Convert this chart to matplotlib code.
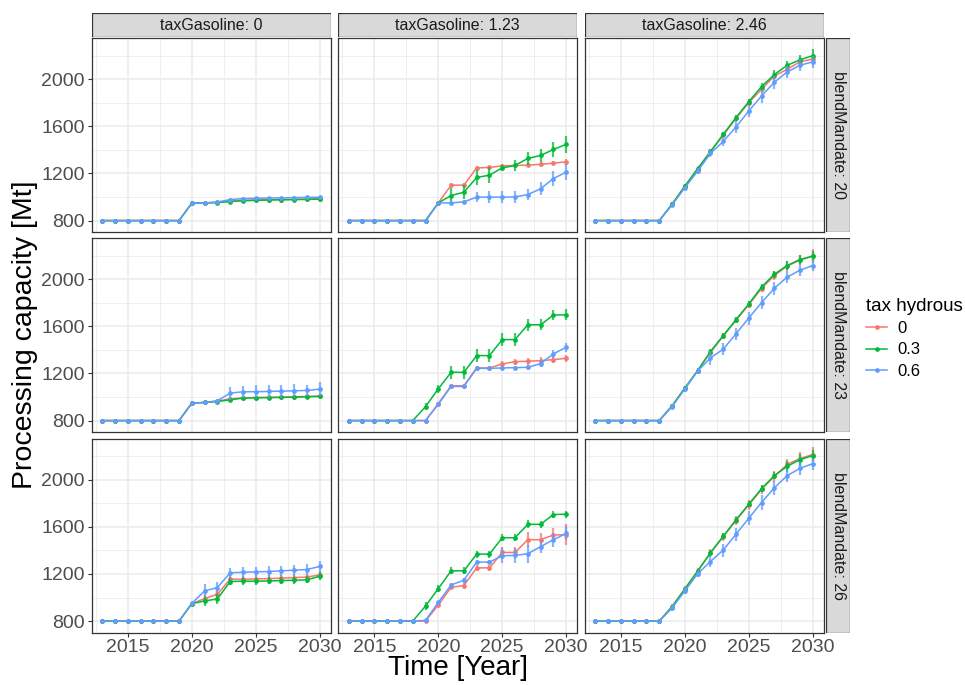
import matplotlib
matplotlib.use("Agg")
import matplotlib.pyplot as plt
from matplotlib.lines import Line2D
from matplotlib.patches import Rectangle
from matplotlib.ticker import FixedLocator

plt.rcParams['font.family'] = ['Liberation Sans', 'DejaVu Sans']

years = [2013, 2014, 2015, 2016, 2017, 2018, 2019, 2020, 2021,
         2022, 2023, 2024, 2025, 2026, 2027, 2028, 2029, 2030]

tax_gasoline = ["0", "1.23", "2.46"]
blend_mandate = ["20", "23", "26"]
tax_hydrous = ["0", "0.3", "0.6"]
series_colors = ["#F8766D", "#00BA38", "#619CFF"]

# Mean processing capacity [Mt]; each block holds tax hydrous 0, 0.3, 0.6
cap_m20_t0 = [
    [800, 800, 800, 800, 800, 800, 800, 948, 950, 955, 965, 972, 975, 977, 978, 980, 982, 985],
    [800, 800, 800, 800, 800, 800, 800, 948, 950, 953, 962, 968, 972, 975, 977, 978, 980, 983],
    [800, 800, 800, 800, 800, 800, 800, 948, 950, 958, 978, 987, 990, 992, 993, 995, 997, 998],
]
cap_m20_t1 = [
    [800, 800, 800, 800, 800, 800, 800, 950, 1101, 1101, 1248, 1251, 1265, 1268, 1271, 1277, 1288, 1299],
    [800, 800, 800, 800, 800, 800, 800, 950, 1013, 1041, 1166, 1186, 1248, 1268, 1328, 1353, 1404, 1447],
    [800, 800, 800, 800, 800, 800, 800, 950, 950, 959, 999, 999, 999, 1001, 1021, 1070, 1157, 1211],
]
cap_m20_t2 = [
    [800, 800, 800, 800, 800, 800, 939, 1092, 1240, 1387, 1523, 1668, 1801, 1915, 2028, 2085, 2148, 2173],
    [800, 800, 800, 800, 800, 800, 939, 1092, 1240, 1384, 1532, 1674, 1810, 1938, 2040, 2119, 2165, 2201],
    [800, 800, 800, 800, 800, 800, 933, 1078, 1220, 1370, 1472, 1594, 1731, 1858, 1975, 2062, 2119, 2148],
]
cap_m23_t0 = [
    [800, 800, 800, 800, 800, 800, 800, 948, 954, 965, 985, 993, 996, 997, 999, 1002, 1005, 1008],
    [800, 800, 800, 800, 800, 800, 800, 948, 954, 962, 976, 991, 994, 995, 997, 999, 1002, 1005],
    [800, 800, 800, 800, 800, 800, 800, 948, 954, 968, 1033, 1045, 1045, 1048, 1050, 1053, 1056, 1067],
]
cap_m23_t1 = [
    [800, 800, 800, 800, 800, 800, 800, 945, 1096, 1096, 1247, 1247, 1281, 1301, 1304, 1309, 1318, 1329],
    [800, 800, 800, 800, 800, 800, 919, 1070, 1210, 1210, 1352, 1352, 1488, 1488, 1614, 1614, 1696, 1699],
    [800, 800, 800, 800, 800, 800, 800, 939, 1090, 1090, 1244, 1244, 1247, 1250, 1252, 1284, 1366, 1423],
]
cap_m23_t2 = [
    [800, 800, 800, 800, 800, 800, 925, 1076, 1224, 1378, 1517, 1651, 1784, 1921, 2032, 2112, 2163, 2197],
    [800, 800, 800, 800, 800, 800, 925, 1076, 1224, 1386, 1522, 1657, 1790, 1935, 2043, 2117, 2168, 2197],
    [800, 800, 800, 800, 800, 800, 919, 1067, 1221, 1332, 1406, 1537, 1671, 1801, 1924, 2018, 2077, 2117],
]
cap_m26_t0 = [
    [800, 800, 800, 800, 800, 800, 800, 948, 991, 1028, 1156, 1156, 1158, 1161, 1164, 1170, 1173, 1193],
    [800, 800, 800, 800, 800, 800, 800, 948, 971, 988, 1136, 1139, 1139, 1141, 1144, 1147, 1150, 1181],
    [800, 800, 800, 800, 800, 800, 800, 951, 1056, 1085, 1210, 1215, 1218, 1221, 1227, 1232, 1238, 1264],
]
cap_m26_t1 = [
    [800, 800, 800, 800, 800, 800, 800, 937, 1087, 1102, 1252, 1252, 1383, 1383, 1491, 1491, 1531, 1534],
    [800, 800, 800, 800, 800, 800, 928, 1076, 1227, 1227, 1369, 1369, 1508, 1508, 1622, 1622, 1705, 1708],
    [800, 800, 800, 800, 800, 800, 806, 959, 1107, 1147, 1301, 1301, 1355, 1358, 1372, 1432, 1491, 1545],
]
cap_m26_t2 = [
    [800, 800, 800, 800, 800, 800, 922, 1073, 1224, 1378, 1517, 1654, 1787, 1918, 2029, 2131, 2180, 2215],
    [800, 800, 800, 800, 800, 800, 922, 1073, 1224, 1380, 1520, 1660, 1792, 1925, 2035, 2114, 2171, 2205],
    [800, 800, 800, 800, 800, 800, 911, 1056, 1201, 1306, 1403, 1537, 1673, 1807, 1932, 2035, 2097, 2137],
]

# Half-width of the error bars [Mt]
err_m20_t0 = [
    [0, 0, 0, 0, 0, 0, 0, 6, 8, 8, 8, 8, 8, 8, 8, 8, 8, 8],
    [0, 0, 0, 0, 0, 0, 0, 6, 8, 8, 8, 8, 8, 8, 8, 8, 8, 8],
    [0, 0, 0, 0, 0, 0, 0, 6, 8, 10, 10, 10, 10, 10, 10, 10, 10, 10],
]
err_m20_t1 = [
    [0, 0, 0, 0, 0, 0, 0, 10, 15, 15, 15, 15, 15, 15, 20, 20, 20, 25],
    [0, 0, 0, 0, 0, 0, 0, 10, 60, 60, 65, 70, 25, 50, 55, 55, 60, 70],
    [0, 0, 0, 0, 0, 0, 0, 10, 10, 15, 45, 50, 50, 50, 50, 55, 65, 70],
]
err_m20_t2 = [
    [0, 0, 0, 0, 0, 0, 20, 20, 20, 25, 25, 25, 30, 30, 35, 40, 40, 40],
    [0, 0, 0, 0, 0, 0, 15, 15, 15, 20, 20, 25, 25, 30, 35, 40, 45, 60],
    [0, 0, 0, 0, 0, 0, 20, 20, 25, 30, 40, 50, 50, 55, 55, 50, 50, 50],
]
err_m23_t0 = [
    [0, 0, 0, 0, 0, 0, 0, 8, 10, 12, 15, 15, 15, 15, 15, 15, 15, 15],
    [0, 0, 0, 0, 0, 0, 0, 8, 10, 12, 15, 15, 15, 15, 15, 15, 15, 15],
    [0, 0, 0, 0, 0, 0, 0, 5, 5, 10, 55, 50, 55, 55, 55, 55, 50, 60],
]
err_m23_t1 = [
    [0, 0, 0, 0, 0, 0, 0, 10, 15, 15, 20, 20, 25, 25, 30, 30, 30, 30],
    [0, 0, 0, 0, 0, 0, 30, 35, 55, 55, 55, 55, 55, 55, 50, 45, 45, 45],
    [0, 0, 0, 0, 0, 0, 0, 10, 10, 10, 10, 10, 15, 15, 20, 30, 35, 40],
]
err_m23_t2 = [
    [0, 0, 0, 0, 0, 0, 15, 15, 20, 25, 25, 25, 30, 30, 35, 40, 45, 60],
    [0, 0, 0, 0, 0, 0, 15, 15, 15, 20, 20, 20, 25, 25, 30, 35, 40, 45],
    [0, 0, 0, 0, 0, 0, 20, 20, 25, 60, 50, 50, 55, 55, 55, 50, 50, 50],
]
err_m26_t0 = [
    [0, 0, 0, 0, 0, 0, 0, 10, 40, 45, 30, 30, 30, 30, 30, 30, 30, 35],
    [0, 0, 0, 0, 0, 0, 0, 10, 40, 40, 30, 30, 30, 30, 30, 30, 30, 35],
    [0, 0, 0, 0, 0, 0, 0, 10, 55, 45, 45, 45, 45, 45, 45, 45, 45, 45],
]
err_m26_t1 = [
    [0, 0, 0, 0, 0, 0, 0, 10, 15, 20, 25, 25, 45, 45, 65, 55, 60, 90],
    [0, 0, 0, 0, 0, 0, 30, 30, 30, 30, 30, 30, 30, 30, 35, 30, 30, 30],
    [0, 0, 0, 0, 0, 0, 5, 15, 15, 20, 20, 20, 65, 65, 75, 50, 60, 60],
]
err_m26_t2 = [
    [0, 0, 0, 0, 0, 0, 20, 25, 25, 35, 35, 40, 40, 40, 45, 50, 55, 60],
    [0, 0, 0, 0, 0, 0, 15, 15, 20, 20, 25, 25, 25, 30, 30, 45, 50, 45],
    [0, 0, 0, 0, 0, 0, 25, 30, 30, 45, 55, 55, 60, 60, 60, 55, 55, 50],
]

capacity = [[cap_m20_t0, cap_m20_t1, cap_m20_t2],
            [cap_m23_t0, cap_m23_t1, cap_m23_t2],
            [cap_m26_t0, cap_m26_t1, cap_m26_t2]]
errors = [[err_m20_t0, err_m20_t1, err_m20_t2],
          [err_m23_t0, err_m23_t1, err_m23_t2],
          [err_m26_t0, err_m26_t1, err_m26_t2]]

W, H = 965, 685
fig = plt.figure(figsize=(W / 100, H / 100), dpi=100)


def fig_rect(x0, y0, x1, y1):
    """Pixel box (top-left origin) -> figure-fraction rect."""
    return [x0 / W, 1 - y1 / H, (x1 - x0) / W, (y1 - y0) / H]


col_px = [(91.5, 330.5), (338.0, 577.0), (584.5, 823.5)]
row_px = [(38.0, 232.0), (238.0, 432.0), (438.5, 632.5)]
border_col = "#333333"
grid_col = "#EBEBEB"
tick_col = "#4D4D4D"

for r in range(3):
    for c in range(3):
        x0, x1 = col_px[c]
        y0, y1 = row_px[r]
        ax = fig.add_axes(fig_rect(x0, y0, x1, y1))
        ax.set_xlim(2012.15, 2030.85)
        ax.set_ylim(703, 2351)
        ax.xaxis.set_major_locator(FixedLocator([2015, 2020, 2025, 2030]))
        ax.xaxis.set_minor_locator(FixedLocator([2012.5, 2017.5, 2022.5, 2027.5]))
        ax.yaxis.set_major_locator(FixedLocator([800, 1200, 1600, 2000]))
        ax.yaxis.set_minor_locator(FixedLocator([1000, 1400, 1800, 2200]))
        ax.grid(which="major", color=grid_col, linewidth=1.1, zorder=0)
        ax.grid(which="minor", color=grid_col, linewidth=0.55, zorder=0)
        ax.set_axisbelow(True)
        for sp in ax.spines.values():
            sp.set_color(border_col)
            sp.set_linewidth(0.9)
            sp.set_zorder(5)
        ax.tick_params(which="major", length=3.0, width=0.8, color=border_col,
                       labelsize=14, labelcolor=tick_col, pad=2)
        ax.tick_params(which="minor", length=0)
        if c != 0:
            ax.tick_params(axis="y", which="major", length=0, labelleft=False)
        if r != 2:
            ax.tick_params(axis="x", which="major", length=0, labelbottom=False)

        for k in range(3):
            vals = capacity[r][c][k]
            errs = errors[r][c][k]
            col = series_colors[k]
            lo = [v - e for v, e in zip(vals, errs)]
            hi = [v + e for v, e in zip(vals, errs)]
            ax.vlines(years, lo, hi, colors=col, linewidth=1.6, alpha=0.75,
                      zorder=2 + k)
            ax.plot(years, vals, color=col, linewidth=1.1, marker="o",
                    markersize=3.4, markeredgewidth=0, zorder=2.5 + k)

        # column strip on top
        if r == 0:
            sax = fig.add_axes(fig_rect(x0, 13.0, x1, 37.0))
            sax.add_patch(Rectangle((0, 0), 1, 1, transform=sax.transAxes,
                                    facecolor="#D9D9D9", edgecolor=border_col,
                                    linewidth=0.9))
            sax.text(0.5, 0.48, f"taxGasoline: {tax_gasoline[c]}", ha="center",
                     va="center", fontsize=11.5, color="#1A1A1A",
                     transform=sax.transAxes)
            sax.set_axis_off()
        # row strip on the right
        if c == 2:
            sax = fig.add_axes(fig_rect(826.0, y0, 850.0, y1))
            sax.add_patch(Rectangle((0, 0), 1, 1, transform=sax.transAxes,
                                    facecolor="#D9D9D9", edgecolor=border_col,
                                    linewidth=0.9))
            sax.text(0.5, 0.5, f"blendMandate: {blend_mandate[r]}", ha="center",
                     va="center", fontsize=11.5, color="#1A1A1A", rotation=-90,
                     transform=sax.transAxes)
            sax.set_axis_off()

# axis titles
fig.text(457.5 / W, 1 - 668 / H, "Time [Year]", ha="center", va="center",
         fontsize=20)
fig.text(25 / W, 1 - 335 / H, "Processing capacity [Mt]", ha="center",
         va="center", rotation=90, fontsize=20.5)

# legend
handles = [Line2D([0], [0], color=series_colors[k], linewidth=1.1, marker="o",
                  markersize=3.4, markeredgewidth=0) for k in range(3)]
leg = fig.legend(handles, tax_hydrous, title="tax hydrous",
                 loc="upper left", bbox_to_anchor=(864 / W, 1 - 296 / H),
                 frameon=False, fontsize=12, title_fontsize=13.5,
                 handlelength=1.3, handletextpad=0.6, labelspacing=0.38,
                 borderpad=0.1, borderaxespad=0.0)
leg._legend_box.align = "left"

fig.savefig("out.png", dpi=100)
